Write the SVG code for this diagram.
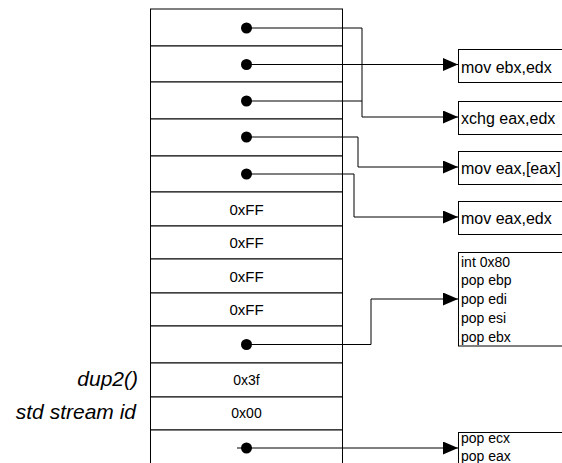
<svg xmlns="http://www.w3.org/2000/svg" width="562" height="463" viewBox="0 0 562 463">
<defs>
<style>
.cell{fill:#fff;stroke:#000;stroke-width:1}
.box{fill:#fff;stroke:#000;stroke-width:1}
.val{font-family:"Liberation Sans",Arial,sans-serif;font-size:15px;text-anchor:middle;fill:#000}
.val2{font-family:"Liberation Sans",Arial,sans-serif;font-size:14px;text-anchor:middle;fill:#000}
.ins{font-family:"Liberation Sans",Arial,sans-serif;font-size:16px;fill:#000}
.ins2{font-family:"Liberation Sans",Arial,sans-serif;font-size:14px;fill:#000}
.lbl{font-family:"Liberation Sans",Arial,sans-serif;font-size:21px;font-style:italic;text-anchor:end;fill:#000}
.wire{fill:none;stroke:#000;stroke-width:1}
.dot{fill:#000}
</style>
<marker id="arr" viewBox="0 0 15 13" refX="15" refY="6.5" markerWidth="15" markerHeight="13" markerUnits="userSpaceOnUse" orient="auto">
<path d="M0,0 L15,6.5 L0,13 Z" fill="#000"/>
</marker>
</defs>
<g id="stack">
<g id="cell1"><rect class="cell" x="150.5" y="9" width="192" height="37"/></g>
<g id="cell2"><rect class="cell" x="150.5" y="46" width="192" height="36"/></g>
<g id="cell3"><rect class="cell" x="150.5" y="82" width="192" height="37"/></g>
<g id="cell4"><rect class="cell" x="150.5" y="119" width="192" height="37"/></g>
<g id="cell5"><rect class="cell" x="150.5" y="156" width="192" height="36"/></g>
<g id="cell6"><rect class="cell" x="150.5" y="192" width="192" height="34"/><text class="val" x="246.5" y="214.5">0xFF</text></g>
<g id="cell7"><rect class="cell" x="150.5" y="226" width="192" height="33"/><text class="val" x="246.5" y="248">0xFF</text></g>
<g id="cell8"><rect class="cell" x="150.5" y="259" width="192" height="34"/><text class="val" x="246.5" y="281.5">0xFF</text></g>
<g id="cell9"><rect class="cell" x="150.5" y="293" width="192" height="33"/><text class="val" x="246.5" y="315">0xFF</text></g>
<g id="cell10"><rect class="cell" x="150.5" y="326" width="192" height="37"/></g>
<g id="cell11"><rect class="cell" x="150.5" y="363" width="192" height="34"/><text class="val2" x="246.5" y="385">0x3f</text></g>
<g id="cell12"><rect class="cell" x="150.5" y="397" width="192" height="33"/><text class="val2" x="246.5" y="418">0x00</text></g>
<g id="cell13"><rect class="cell" x="150.5" y="430" width="192" height="40"/></g>
</g>
<g id="labels">
<text class="lbl" x="138" y="386">dup2()</text>
<text class="lbl" x="136" y="419">std stream id</text>
</g>
<g id="boxes">
<g id="b-movebx"><rect class="box" x="458.5" y="49.5" width="110" height="33"/><text class="ins" x="461" y="72.5">mov ebx,edx</text></g>
<g id="b-xchg"><rect class="box" x="458.5" y="101.5" width="110" height="33"/><text class="ins" x="461" y="123.5">xchg eax,edx</text></g>
<g id="b-moveaxm"><rect class="box" x="458.5" y="151.5" width="110" height="33"/><text class="ins" x="461" y="173.5">mov eax,[eax]</text></g>
<g id="b-moveax"><rect class="box" x="458.5" y="201.5" width="110" height="33"/><text class="ins" x="461" y="223.5">mov eax,edx</text></g>
<g id="b-int"><rect class="box" x="458.5" y="252.5" width="110" height="93.5"/>
<text class="ins2" x="461" y="266.5">int 0x80</text>
<text class="ins2" x="461" y="285.2">pop ebp</text>
<text class="ins2" x="461" y="304">pop edi</text>
<text class="ins2" x="461" y="322.7">pop esi</text>
<text class="ins2" x="461" y="341.5">pop ebx</text></g>
<g id="b-popecx"><rect class="box" x="458.5" y="432.5" width="110" height="40"/>
<text class="ins2" x="461" y="442.5">pop ecx</text>
<text class="ins2" x="461" y="461">pop eax</text></g>
</g>
<g id="connectors">
<circle class="dot" cx="246.5" cy="28" r="5.5"/>
<circle class="dot" cx="246.5" cy="64.5" r="5.5"/>
<circle class="dot" cx="246.5" cy="101" r="5.5"/>
<circle class="dot" cx="246.5" cy="137" r="5.5"/>
<circle class="dot" cx="246.5" cy="174" r="5.5"/>
<circle class="dot" cx="246.5" cy="344.5" r="5.5"/>
<circle class="dot" cx="246.5" cy="448" r="5.5"/>
<path class="wire" d="M246.5,28 H362 V117 H458" marker-end="url(#arr)"/>
<path class="wire" d="M246.5,64.5 H458" marker-end="url(#arr)"/>
<path class="wire" d="M246.5,101 H362"/>
<path class="wire" d="M246.5,137 H358 V167 H458" marker-end="url(#arr)"/>
<path class="wire" d="M246.5,174 H354 V217 H458" marker-end="url(#arr)"/>
<path class="wire" d="M246.5,344.5 H371 V299 H458" marker-end="url(#arr)"/>
<path class="wire" d="M237,448 H458" marker-end="url(#arr)"/>
</g>
</svg>
